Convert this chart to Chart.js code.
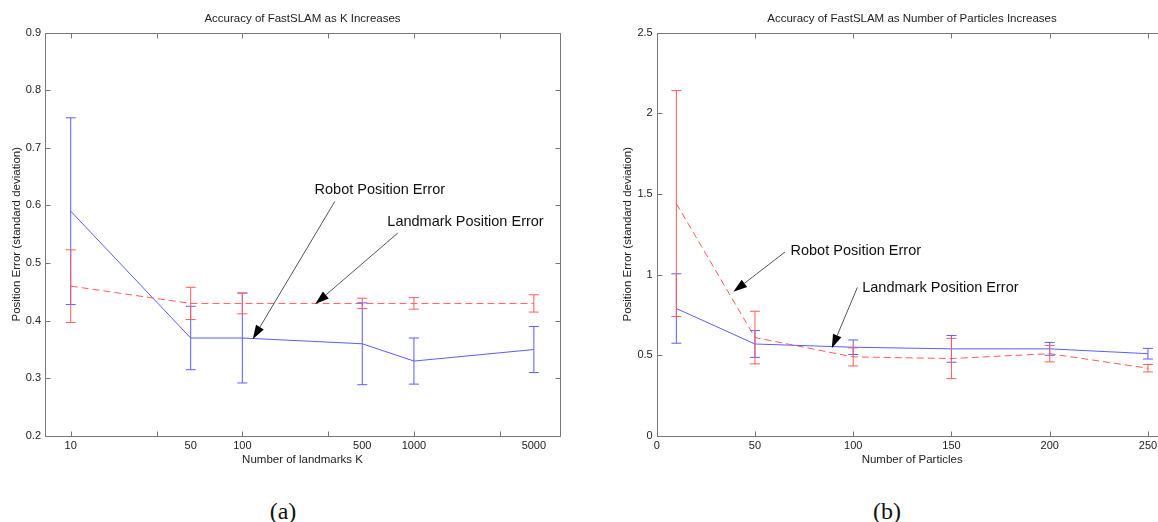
<!DOCTYPE html>
<html>
<head>
<meta charset="utf-8">
<script src="https://cdn.jsdelivr.net/npm/chart.js@4.4.1/dist/chart.umd.min.js"></script>
<style>
  html, body { margin: 0; padding: 0; background: #fff; width: 1158px; height: 522px; overflow: hidden; }
  #wrapA { position: absolute; left: 0; top: 0; width: 605px; height: 480px; }
  #wrapB { position: absolute; left: 612px; top: 0; width: 600px; height: 480px; }
  .cap { position: absolute; top: 497px; font-family: "Liberation Serif", serif; font-size: 24px; color: #111; transform: translateX(-50%); line-height: 28px; }
</style>
</head>
<body>
<div id="wrapA"><canvas id="chartA" width="605" height="480"></canvas></div>
<div id="wrapB"><canvas id="chartB" width="600" height="480"></canvas></div>
<div class="cap" style="left:283px">(a)</div>
<div class="cap" style="left:887px">(b)</div>
<script>
// (a) error vs number of landmarks K
const landmarksK = [10, 50, 100, 500, 1000, 5000];
const robotErrA = [0.59, 0.37, 0.37, 0.36, 0.33, 0.35];
const robotStdA = [0.162, 0.055, 0.078, 0.071, 0.04, 0.04];
const landmarkErrA = [0.46, 0.43, 0.43, 0.43, 0.43, 0.43];
const landmarkStdA = [0.063, 0.028, 0.018, 0.009, 0.01, 0.015];
const xTickMarksA = [10, 31.62, 100, 316.2, 1000, 3162];
const yTicksA = [0.2, 0.3, 0.4, 0.5, 0.6, 0.7, 0.8, 0.9];

// (b) error vs number of particles
const particles = [10, 50, 100, 150, 200, 250];
const robotErrB = [1.44, 0.61, 0.49, 0.48, 0.51, 0.42];
const robotStdB = [0.70, 0.163, 0.056, 0.125, 0.051, 0.023];
const landmarkErrB = [0.79, 0.57, 0.55, 0.54, 0.54, 0.51];
const landmarkStdB = [0.215, 0.083, 0.045, 0.083, 0.04, 0.033];
const xTicksB = [0, 50, 100, 150, 200, 250];
const yTicksB = [0, 0.5, 1, 1.5, 2, 2.5];

const BLUE = "#5c5cff";
const RED = "#ff5c5c";
const TXT = "#222";

Chart.defaults.font.family = "'Liberation Sans', Arial, sans-serif";
Chart.defaults.animation = false;

function meanLine(xs, ys, color, dashed) {
    return {
        type: "line",
        data: xs.map((x, i) => ({ x: x, y: ys[i] })),
        borderColor: color,
        borderWidth: 1,
        borderDash: dashed ? [7, 4] : [],
        pointRadius: 0,
        fill: false
    };
}

// vertical bar from mean-std to mean+std, with "line" points as caps
function errorBars(xs, ys, sd, color) {
    let pts = [];
    xs.forEach((x, i) => {
        pts.push({ x: x, y: ys[i] - sd[i] });
        pts.push({ x: x, y: ys[i] + sd[i] });
        pts.push({ x: x, y: null });
    });
    return {
        type: "line",
        data: pts,
        borderColor: color,
        borderWidth: 1,
        spanGaps: false,
        pointStyle: "line",
        pointRadius: 5,
        pointBorderColor: color,
        pointBorderWidth: 1,
        pointHoverRadius: 5,
        fill: false
    };
}

// box round the plot with inward tick marks, like the original figure
const framePlugin = {
    id: "frame",
    afterDatasetsDraw(chart, args, opts) {
        const { ctx, chartArea: a, scales } = chart;
        const L = Math.round(a.left) + 0.5, R = Math.round(a.right) + 0.5;
        const T = Math.round(a.top) + 0.5, B = Math.round(a.bottom) + 0.5;
        ctx.save();
        ctx.strokeStyle = "#777";
        ctx.lineWidth = 1;
        ctx.beginPath();
        ctx.rect(L, T, R - L, B - T);
        (opts.xMarks || []).forEach(v => {
            const px = Math.round(scales.x.getPixelForValue(v)) + 0.5;
            ctx.moveTo(px, B); ctx.lineTo(px, B - 5);
            ctx.moveTo(px, T); ctx.lineTo(px, T + 5);
        });
        (opts.yMarks || []).forEach(v => {
            const py = Math.round(scales.y.getPixelForValue(v)) + 0.5;
            ctx.moveTo(L, py); ctx.lineTo(L + 5, py);
            ctx.moveTo(R, py); ctx.lineTo(R - 5, py);
        });
        ctx.stroke();
        ctx.restore();
    }
};

// text labels with arrows, positioned in data units
const notesPlugin = {
    id: "notes",
    afterDraw(chart, args, opts) {
        const { ctx, scales } = chart;
        ctx.save();
        (opts.items || []).forEach(n => {
            const tx = scales.x.getPixelForValue(n.tx), ty = scales.y.getPixelForValue(n.ty);
            const x0 = scales.x.getPixelForValue(n.from[0]), y0 = scales.y.getPixelForValue(n.from[1]);
            const x1 = scales.x.getPixelForValue(n.to[0]), y1 = scales.y.getPixelForValue(n.to[1]);
            ctx.font = "14.5px 'Liberation Sans', Arial, sans-serif";
            ctx.fillStyle = "#111";
            ctx.textAlign = "left";
            ctx.textBaseline = "middle";
            ctx.fillText(n.text, tx, ty);
            const ang = Math.atan2(y1 - y0, x1 - x0);
            const hl = 14, hw = 4.5;
            const bx = x1 - hl * Math.cos(ang), by = y1 - hl * Math.sin(ang);
            ctx.strokeStyle = "#555";
            ctx.lineWidth = 1;
            ctx.beginPath();
            ctx.moveTo(x0, y0);
            ctx.lineTo(bx, by);
            ctx.stroke();
            ctx.fillStyle = "#000";
            ctx.beginPath();
            ctx.moveTo(x1, y1);
            ctx.lineTo(bx + hw * Math.sin(ang), by - hw * Math.cos(ang));
            ctx.lineTo(bx - hw * Math.sin(ang), by + hw * Math.cos(ang));
            ctx.closePath();
            ctx.fill();
        });
        ctx.restore();
    }
};

const tickFont = { size: 11 };
const labelFont = { size: 11.5 };
const noGrid = { display: false, drawTicks: false, tickLength: 0 };

// empty right-hand axis, only to reserve the margin so the title centres over the plot
function spacerAxis(w) {
    return {
        type: "linear",
        position: "right",
        display: true,
        grid: noGrid,
        border: { display: false },
        ticks: { display: false },
        afterFit: s => { s.width = w; }
    };
}

const chartA = new Chart(document.getElementById("chartA").getContext("2d"), {
    type: "line",
    data: {
        datasets: [
            errorBars(landmarksK, landmarkErrA, landmarkStdA, RED),
            errorBars(landmarksK, robotErrA, robotStdA, BLUE),
            meanLine(landmarksK, landmarkErrA, RED, true),
            meanLine(landmarksK, robotErrA, BLUE, false)
        ]
    },
    options: {
        responsive: false,
        layout: { padding: 0 },
        plugins: {
            legend: { display: false },
            tooltip: { enabled: false },
            title: {
                display: true,
                text: "Accuracy of FastSLAM as K Increases",
                color: TXT,
                font: { size: 11.5, weight: "normal" },
                padding: { top: 11.5, bottom: 7.2 }
            },
            frame: { xMarks: xTickMarksA, yMarks: yTicksA },
            notes: {
                items: [
                    { text: "Robot Position Error", tx: 263.5, ty: 0.626, from: [346, 0.607], to: [115, 0.368] },
                    { text: "Landmark Position Error", tx: 700, ty: 0.571, from: [805, 0.552], to: [266, 0.4288] }
                ]
            }
        },
        scales: {
            x: {
                type: "logarithmic",
                min: 7.08,
                max: 7100,
                grid: noGrid,
                border: { display: false },
                afterBuildTicks: s => { s.ticks = landmarksK.map(v => ({ value: v })); },
                afterFit: s => { s.height = 44; },
                ticks: { callback: v => String(v), autoSkip: false, maxRotation: 0, padding: 3, color: TXT, font: tickFont },
                title: { display: true, text: "Number of landmarks K", color: TXT, font: labelFont, padding: { top: 0, bottom: 13 } }
            },
            y: {
                type: "linear",
                min: 0.2,
                max: 0.9,
                grid: noGrid,
                border: { display: false },
                afterBuildTicks: s => { s.ticks = yTicksA.map(v => ({ value: v })); },
                afterFit: s => { s.width = 45; },
                ticks: { callback: v => v.toFixed(1), padding: 4, color: TXT, font: tickFont },
                title: { display: true, text: "Position Error (standard deviation)", color: TXT, font: labelFont, padding: { top: 9.7, bottom: 0 } }
            },
            yRight: spacerAxis(45)
        }
    },
    plugins: [framePlugin, notesPlugin]
});

const chartB = new Chart(document.getElementById("chartB").getContext("2d"), {
    type: "line",
    data: {
        datasets: [
            errorBars(particles, robotErrB, robotStdB, RED),
            errorBars(particles, landmarkErrB, landmarkStdB, BLUE),
            meanLine(particles, robotErrB, RED, true),
            meanLine(particles, landmarkErrB, BLUE, false)
        ]
    },
    options: {
        responsive: false,
        layout: { padding: 0 },
        plugins: {
            legend: { display: false },
            tooltip: { enabled: false },
            title: {
                display: true,
                text: "Accuracy of FastSLAM as Number of Particles Increases",
                color: TXT,
                font: { size: 11.5, weight: "normal" },
                padding: { top: 11.5, bottom: 7.2 }
            },
            frame: { xMarks: xTicksB, yMarks: yTicksB },
            notes: {
                items: [
                    { text: "Robot Position Error", tx: 68.1, ty: 1.145, from: [65.3, 1.14], to: [39.0, 0.893] },
                    { text: "Landmark Position Error", tx: 104.6, ty: 0.918, from: [102.1, 0.92], to: [89.1, 0.543] }
                ]
            }
        },
        scales: {
            x: {
                type: "linear",
                min: 0,
                max: 260,
                grid: noGrid,
                border: { display: false },
                afterBuildTicks: s => { s.ticks = xTicksB.map(v => ({ value: v })); },
                afterFit: s => { s.height = 44; },
                ticks: { callback: v => String(v), autoSkip: false, maxRotation: 0, padding: 3, color: TXT, font: tickFont },
                title: { display: true, text: "Number of Particles", color: TXT, font: labelFont, padding: { top: 0, bottom: 13 } }
            },
            y: {
                type: "linear",
                min: 0,
                max: 2.5,
                grid: noGrid,
                border: { display: false },
                afterBuildTicks: s => { s.ticks = yTicksB.map(v => ({ value: v })); },
                afterFit: s => { s.width = 44.7; },
                ticks: { callback: v => String(v), padding: 4, color: TXT, font: tickFont },
                title: { display: true, text: "Position Error (standard deviation)", color: TXT, font: labelFont, padding: { top: 9.1, bottom: 0 } }
            },
            yRight: spacerAxis(44.4)
        }
    },
    plugins: [framePlugin, notesPlugin]
});
</script>
</body>
</html>
